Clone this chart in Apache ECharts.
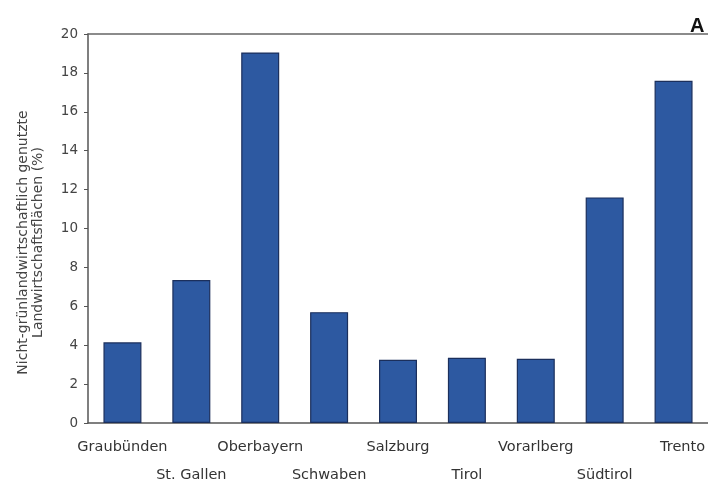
<!DOCTYPE html>
<html>
<head>
<meta charset="utf-8">
<script src="https://cdn.jsdelivr.net/npm/echarts@6/dist/echarts.min.js"></script>
<style>
  html, body { margin: 0; padding: 0; background: #fff; }
  #chart { width: 708px; height: 487px; }
</style>
</head>
<body>
<div id="chart"></div>
<script>
const regions = ['Graubünden', 'St. Gallen', 'Oberbayern', 'Schwaben', 'Salzburg', 'Tirol', 'Vorarlberg', 'Südtirol', 'Trento']
const shares = [4.15, 7.35, 19.05, 5.7, 3.25, 3.35, 3.3, 11.6, 17.6]
const yTicks = { min: 0, max: 20, interval: 2 }

// last label sits a bit right of its bar in the original
const regionItems = regions.map(function (r, i) {
  if (i === regions.length - 1) {
    return { value: r, textStyle: { padding: [0, 0, 0, 18] } }
  }
  return r
})

const myChart = echarts.init(document.getElementById('chart'))
myChart.setOption({
  backgroundColor: '#ffffff',
  textStyle: { fontFamily: 'DejaVu Sans, Liberation Sans, sans-serif' },
  title: {
    text: 'A',
    left: 685,
    top: 11,
    textStyle: { fontSize: 20, fontWeight: 'bold', color: '#111', fontFamily: 'Liberation Sans, Arial, sans-serif' }
  },
  grid: {
    left: 88,
    right: 0,
    top: 34,
    bottom: 64,
    outerBoundsMode: 'none'
  },
  xAxis: [
    {
      type: 'category',
      data: regionItems,
      axisLine: { lineStyle: { color: '#555', width: 1.5 } },
      axisTick: { show: false },
      axisLabel: {
        interval: 0,
        color: '#333',
        fontSize: 14.5,
        margin: 10,
        lineHeight: 28,
        formatter: function (value, idx) {
          return idx % 2 === 1 ? '\n' + value : value
        }
      }
    },
    {
      type: 'category',
      position: 'top',
      data: regions,
      axisLine: { lineStyle: { color: '#666', width: 1.5 } },
      axisTick: { show: false },
      axisLabel: { show: false }
    }
  ],
  yAxis: {
    type: 'value',
    min: yTicks.min,
    max: yTicks.max,
    interval: yTicks.interval,
    splitLine: { show: false },
    axisLine: { show: true, lineStyle: { color: '#555', width: 1.5 } },
    axisTick: { show: true, length: 4, lineStyle: { color: '#555' } },
    axisLabel: { color: '#444', fontSize: 13.5, margin: 10 },
    name: 'Nicht-grünlandwirtschaftlich genutzte\nLandwirtschaftsflächen (%)',
    nameLocation: 'middle',
    nameGap: 42,
    nameRotate: 90,
    nameTextStyle: { color: '#444', fontSize: 14, lineHeight: 15, padding: [0, 28, 0, 0] }
  },
  series: [{
    name: 'Anteil',
    type: 'bar',
    data: shares,
    barWidth: 38,
    itemStyle: {
      color: '#2d59a1',
      borderColor: '#1b2f5c',
      borderWidth: 1.2
    }
  }]
})
</script>
</body>
</html>
